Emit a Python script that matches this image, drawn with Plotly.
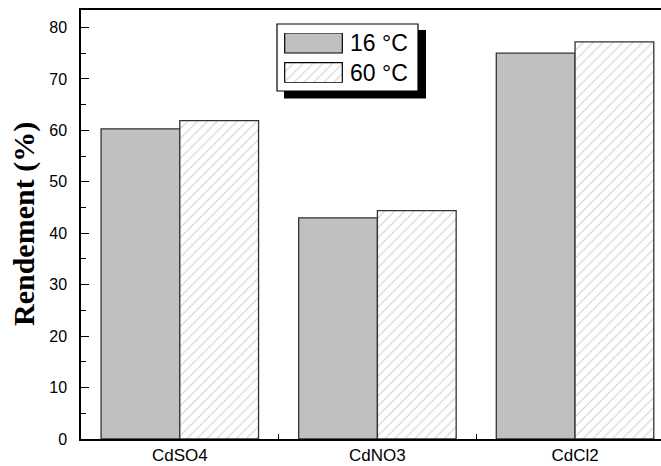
import plotly.graph_objects as go

# Data
categories = ["CdSO4", "CdNO3", "CdCl2"]
series_names = ["16 °C", "60 °C"]
yield_16 = [60.3, 43.0, 75.0]
yield_60 = [61.9, 44.4, 77.2]

# Figure geometry (pixels)
FIG_W, FIG_H = 661, 466
L, R, T, B = 81, 661, 10, 439
PW, PH = R - L, B - T


def px(x):
    return (x - L) / PW


def py(y):
    return (B - y) / PH


GRAY = "#c0c0c0"
EDGE = "#333333"
HATCH = dict(shape="/", bgcolor="white", fgcolor="#a0a0a0", size=7, solidity=0.15)

fig = go.Figure()

fig.add_trace(go.Bar(
    x=categories, y=yield_16, name=series_names[0],
    marker=dict(color=GRAY, line=dict(color=EDGE, width=1.3)),
    showlegend=False,
))
fig.add_trace(go.Bar(
    x=categories, y=yield_60, name=series_names[1],
    marker=dict(color="white", pattern=HATCH, line=dict(color=EDGE, width=1.3)),
    showlegend=False,
))

# Legend swatches drawn as bars on a small helper subplot
SW_TOP, SW_BOT = 33, 82.7
fig.add_trace(go.Bar(
    x=[1], y=[SW_BOT - 43], width=[20], orientation="h",
    marker=dict(color=GRAY, line=dict(color="black", width=1.2)),
    xaxis="x2", yaxis="y2", showlegend=False, hoverinfo="skip",
))
fig.add_trace(go.Bar(
    x=[1], y=[SW_BOT - 72.7], width=[20], orientation="h",
    marker=dict(color="white", pattern=HATCH, line=dict(color="black", width=1.2)),
    xaxis="x2", yaxis="y2", showlegend=False, hoverinfo="skip",
))

tickfont = dict(family="Liberation Sans, Arial", size=16, color="black")

fig.update_layout(
    width=FIG_W, height=FIG_H,
    margin=dict(l=L, r=FIG_W - R, t=T, b=FIG_H - B, pad=0),
    paper_bgcolor="white", plot_bgcolor="white",
    barmode="group", bargap=0.203, bargroupgap=0,
    xaxis=dict(
        type="category", range=[-0.5, 2.435],
        showline=True, linecolor="black", linewidth=1.5, mirror=True,
        ticks="inside", tickson="boundaries", ticklen=5, tickcolor="black", tickwidth=1.2,
        tickfont=dict(family="Liberation Sans, Arial", size=17, color="black"),
        showgrid=False, zeroline=False,
    ),
    yaxis=dict(
        range=[0, 83.4], dtick=10, tick0=0,
        showline=True, linecolor="black", linewidth=1.5, mirror=False,
        ticks="inside", ticklen=8, tickcolor="black", tickwidth=1.2,
        minor=dict(dtick=5, ticks="inside", ticklen=5, tickcolor="black", tickwidth=1.2),
        tickfont=tickfont, ticklabelstandoff=9,
        showgrid=False, zeroline=False,
    ),
    xaxis2=dict(domain=[px(284), px(343)], range=[-0.012, 1.012], anchor="y2",
                visible=False, fixedrange=True),
    yaxis2=dict(domain=[py(SW_BOT), py(SW_TOP)], range=[0, SW_BOT - SW_TOP], anchor="x2",
                visible=False, fixedrange=True),
    shapes=[
        # legend drop shadow
        dict(type="rect", xref="paper", yref="paper", layer="below",
             x0=px(284), x1=px(426), y0=py(98.5), y1=py(30),
             fillcolor="black", line=dict(width=0)),
        # legend box
        dict(type="rect", xref="paper", yref="paper", layer="below",
             x0=px(277), x1=px(418), y0=py(91), y1=py(24),
             fillcolor="white", line=dict(color="black", width=1.2)),
    ],
    annotations=[
        dict(text=series_names[0], xref="paper", yref="paper", x=px(348), y=py(43),
             xanchor="left", yanchor="middle", showarrow=False,
             font=dict(family="Liberation Sans, Arial", size=23, color="black")),
        dict(text=series_names[1], xref="paper", yref="paper", x=px(348), y=py(72.7),
             xanchor="left", yanchor="middle", showarrow=False,
             font=dict(family="Liberation Sans, Arial", size=23, color="black")),
        dict(text="<b>Rendement (%)</b>", xref="paper", yref="paper", x=px(24), y=py(224),
             xanchor="center", yanchor="middle", textangle=-90, showarrow=False,
             font=dict(family="Liberation Serif, Times New Roman", size=30, color="black")),
    ],
)

fig.write_html("out.html")
